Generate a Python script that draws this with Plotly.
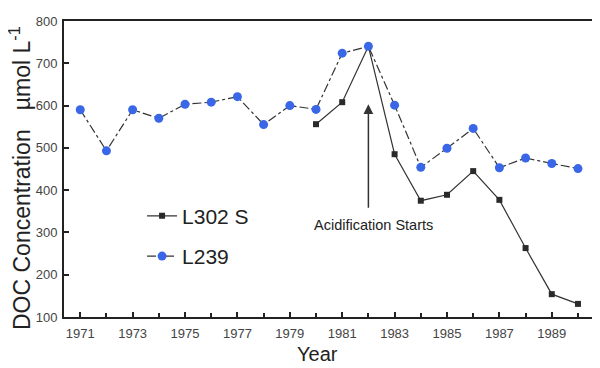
import plotly.graph_objects as go

years_l239 = list(range(1971, 1991))
l239 = [590, 493, 590, 570, 603, 608, 621, 555, 600, 591, 724, 740, 601, 454, 499, 546, 453, 476, 463, 451]

years_l302 = list(range(1980, 1991))
l302 = [556, 608, 740, 485, 375, 389, 445, 377, 263, 154, 131]

xtick_years = list(range(1971, 1990, 2))
ytick_vals = [100, 200, 300, 400, 500, 600, 700, 800]

font_main = "Liberation Sans, Arial, Helvetica, sans-serif"

fig = go.Figure()
fig.add_trace(go.Scatter(
    x=years_l302, y=l302, name="L302 S", mode="lines+markers", legendgroup="a",
    line=dict(color="#333333", width=1.2, dash="solid"),
    marker=dict(symbol="square", size=6, color="#2a2a2a"),
))
fig.add_trace(go.Scatter(
    x=years_l239, y=l239, name="L239", mode="lines+markers", legendgroup="b",
    line=dict(color="#333333", width=1.2, dash="dashdot"),
    marker=dict(symbol="circle", size=9, color="#3a66e8"),
))

tickfont = dict(family=font_main, size=13, color="#444444")

fig.update_layout(
    width=600, height=368,
    margin=dict(l=56, r=13, t=6, b=59),
    paper_bgcolor="white", plot_bgcolor="white",
    showlegend=True,
    legend=dict(x=0.147, y=0.41, xanchor="left", yanchor="top",
                font=dict(family=font_main, size=21, color="#222222"),
                bgcolor="rgba(0,0,0,0)", itemwidth=30, tracegroupgap=10,
                traceorder="grouped"),
    xaxis=dict(
        range=[1970.38, 1990.65],
        tickvals=xtick_years,
        ticks="inside", ticklen=5, tickwidth=2, tickcolor="#222222",
        minor=dict(dtick=1, tick0=1970, ticks="inside", ticklen=4, tickwidth=2, tickcolor="#222222"),
        showline=True, linecolor="#222222", linewidth=2, mirror=True,
        showgrid=False, zeroline=False, tickfont=tickfont,
        ticklabelstandoff=3,
    ),
    yaxis=dict(
        range=[100, 800],
        tickvals=ytick_vals,
        ticks="inside", ticklen=5, tickwidth=2, tickcolor="#222222",
        showline=True, linecolor="#222222", linewidth=2, mirror=True,
        showgrid=False, zeroline=False, tickfont=tickfont,
        ticklabelstandoff=2,
    ),
)

fig.add_annotation(x=-0.0815, y=0.4686, xref="paper", yref="paper", textangle=-90,
                   text="DOC Concentration   µmol L<sup>-1</sup>", showarrow=False,
                   xanchor="center", yanchor="middle",
                   font=dict(family=font_main, size=23, color="#222222"))
fig.add_annotation(x=0.478, y=-0.125, xref="paper", yref="paper",
                   text="Year", showarrow=False, xanchor="center", yanchor="middle",
                   font=dict(family=font_main, size=20, color="#222222"))

fig.add_annotation(x=1982, y=603, ax=1982, ay=355, xref="x", yref="y", axref="x", ayref="y",
                   showarrow=True, arrowhead=2, arrowsize=1.3, arrowwidth=1.5, arrowcolor="#333333", text="")
fig.add_annotation(x=1982.2, y=318, xref="x", yref="y", text="Acidification Starts", showarrow=False,
                   font=dict(family=font_main, size=14.5, color="#222222"))

fig.write_html("out.html")
